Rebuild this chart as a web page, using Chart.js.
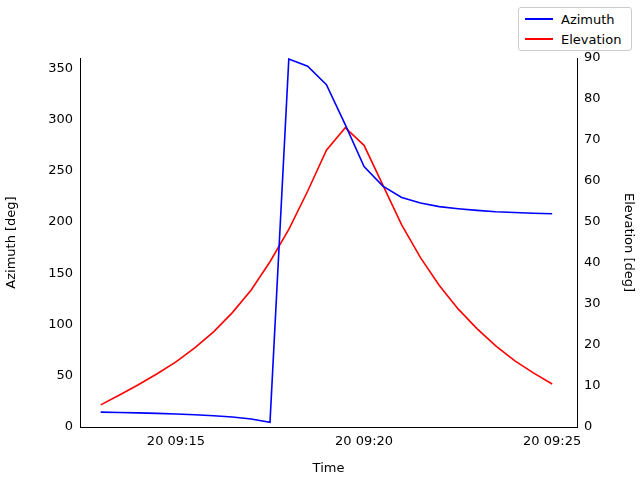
<!DOCTYPE html>
<html><head><meta charset="utf-8">
<script src="https://cdn.jsdelivr.net/npm/chart.js"></script>
<style>
body{margin:0;background:#fff;font-family:"DejaVu Sans",sans-serif}
#wrap{position:relative;width:640px;height:480px}
#leg{position:absolute;left:518px;top:7px;width:114px;height:44px;border:1px solid #ccc;border-radius:3px;background:#fff;font-size:13px;box-sizing:border-box}
.r{position:absolute;left:6px;height:16px;display:flex;align-items:center}
.r i{display:inline-block;width:28px;height:0;border-top:2px solid;margin-right:8px}
</style></head><body>
<div id="wrap"><canvas id="c" width="640" height="480"></canvas>
<div id="leg"><div class="r" style="top:3px"><i style="border-color:#0000ff"></i>Azimuth</div><div class="r" style="top:23px"><i style="border-color:#ff0000"></i>Elevation</div></div></div>
<script>
const times=[13,13.5,14,14.5,15,15.5,16,16.5,17,17.5,18,18.5,19,19.5,20,20.5,21,21.5,22,22.5,23,23.5,24,24.5,25];
const azimuth=[14.5,14.2,13.8,13.3,12.7,12.0,11.0,9.7,7.8,4.5,359,352,334,295,254,235,224,218.5,215,213,211.3,210,209.2,208.5,208];
const elevation=[5.4,7.8,10.3,13.0,15.9,19.3,23.2,27.9,33.4,40.3,48.2,57.5,67.5,73.0,68.7,59.0,49.3,41.3,34.5,28.8,24.0,19.8,16.2,13.2,10.5];
const xTicks=[15,20,25];
const xTickLabels=["20 09:15","20 09:20","20 09:25"];
const az=times.map((t,i)=>({x:t,y:azimuth[i]}));
const el=times.map((t,i)=>({x:t,y:elevation[i]}));
Chart.defaults.font.family="DejaVu Sans";Chart.defaults.font.size=13;Chart.defaults.color="#000";
const tickCommon={color:'#000',font:{size:13}};
new Chart(document.getElementById('c'),{type:'line',
data:{datasets:[{data:az,borderColor:'#0000ff',borderWidth:1.6,pointRadius:0,yAxisID:'y',tension:0},
{data:el,borderColor:'#ff0000',borderWidth:1.6,pointRadius:0,yAxisID:'y1',tension:0}]},
options:{animation:false,responsive:false,events:[],
layout:{padding:{top:58,bottom:0,left:0,right:0}},
plugins:{legend:{display:false},tooltip:{enabled:false}},
scales:{
x:{type:'linear',min:12.45,max:25.66,afterBuildTicks:s=>{s.ticks=xTicks.map(v=>({value:v}));},
 ticks:{...tickCommon,callback:v=>xTickLabels[xTicks.indexOf(v)]??''},
 grid:{display:false,drawTicks:true,tickLength:4,tickColor:'#000'},border:{color:'#000'},
 title:{display:true,text:'Time',font:{size:13},padding:{top:2}},afterFit:s=>{s.height=53}},
y:{position:'left',min:0,max:360,afterBuildTicks:s=>{s.ticks=[0,50,100,150,200,250,300,350].map(v=>({value:v}));},
 ticks:tickCommon,grid:{display:false,tickLength:4,tickColor:'#000'},border:{color:'#000'},
 title:{display:true,text:'Azimuth [deg]',font:{size:13}},afterFit:s=>{s.width=80}},
y1:{position:'right',min:0,max:90,ticks:{...tickCommon,stepSize:10},grid:{display:false,tickLength:4,tickColor:'#000'},border:{color:'#000'},
 title:{display:true,text:'Elevation [deg]',font:{size:13}},afterFit:s=>{s.width=63}}
}}});
</script></body></html>
